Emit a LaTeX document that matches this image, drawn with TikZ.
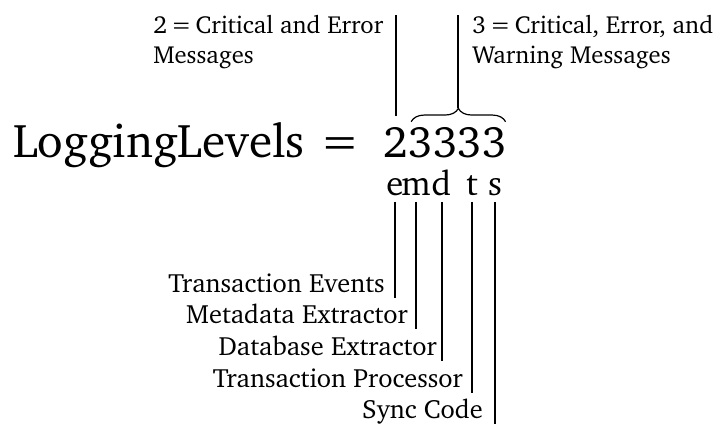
\documentclass[tikz,border=0pt]{standalone}
\usepackage[T1]{fontenc}
\usepackage{charter}
\usetikzlibrary{decorations.pathreplacing}

\begin{document}
\begin{tikzpicture}[
    x=0.75pt, y=0.75pt,
    every node/.style={inner sep=0pt, font=\fontsize{19.8}{22.5}\selectfont},
    big/.style={font=\fontsize{35.5}{40}\selectfont},
    digits/.style={font=\fontsize{33}{38}\selectfont},
    letter/.style={font=\fontsize{26}{30}\selectfont, inner ysep=5pt, text depth=0pt, anchor=base},
    note/.style={align=left, anchor=north west, font=\fontsize{18.5}{22.5}\selectfont},
    desc/.style={anchor=base east, inner ysep=4.5pt, text depth=0pt},
    leader/.style={line width=1.5pt},
    bracket/.style={line width=0.9pt, decorate, decoration={brace, amplitude=10pt}}
]
\useasboundingbox (0,0) rectangle (727,-425);

% Expression
\node[big, anchor=base west] (name) at (13,-157) {LoggingLevels};
\node[big, anchor=base] (eq) at (340,-157) {=};
\node[digits, anchor=base] (two) at (396,-157) {2};
\node[digits, anchor=base west] (threes) at (two.base east) {3333};

% Component letters
\foreach \name/\x in {e/395, m/416, d/441.5, t/472, s/495}
  \node[letter] (\name) at (\x,-195) {\name};

% Level notes
\node[note] (crit2) at (153,-15) {2\,=\,Critical and Error\\Messages};
\node[note] (crit3) at (472,-15) {3\,=\,Critical, Error, and\\Warning Messages};

% Component names
\node[desc] (events) at (385,-292) {Transaction Events};
\node[desc] (meta) at (408,-323) {Metadata Extractor};
\node[desc] (dbx) at (437,-355) {Database Extractor};
\node[desc] (proc) at (463,-387) {Transaction Processor};
\node[desc] (sync) at (483,-418) {Sync Code};

% Leaders
\draw[leader] ([yshift=8pt]two.north) -- (two.north |- crit2.north);
\draw[bracket] ([xshift=2pt,yshift=3.75pt]threes.north west) -- ([xshift=-1pt,yshift=3.75pt]threes.north east);
\coordinate (tip) at ([yshift=13.75pt]threes.north);
\draw[leader] (tip) -- (tip |- crit3.north);

\foreach \a/\b in {e/events, m/meta, d/dbx, t/proc, s/sync}
  \draw[leader] (\a.south) -- (\a.south |- \b.south);

\end{tikzpicture}
\end{document}
